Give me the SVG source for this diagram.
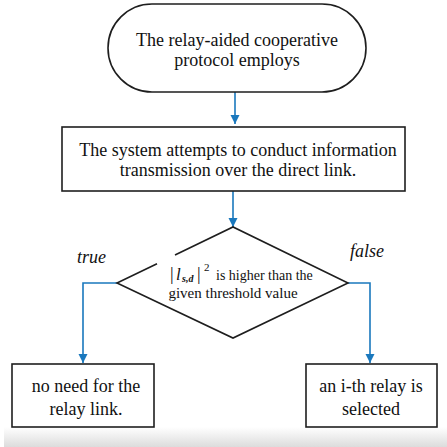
<svg xmlns="http://www.w3.org/2000/svg" width="447" height="447" viewBox="0 0 447 447">
<defs>
<marker id="ah" markerWidth="10" markerHeight="10" refX="9" refY="5" orient="auto" markerUnits="userSpaceOnUse">
<path d="M0,0.5 L9,5 L0,9.5 Z" fill="#1a78bd"/>
</marker>
<linearGradient id="bg" x1="0" y1="0" x2="0" y2="1">
<stop offset="0" stop-color="#ffffff"/>
<stop offset="1" stop-color="#dcdcdc"/>
</linearGradient>
<style>
.shape{fill:#fff;stroke:#1e1e1e;stroke-width:1.6}
.edge{fill:none;stroke:#1e1e1e;stroke-width:1.6;stroke-linejoin:miter}
.conn{fill:none;stroke:#1a78bd;stroke-width:1.6}
.t{font-family:"Liberation Serif","Times New Roman",serif;fill:#111;text-anchor:middle}
.lab{font-family:"Liberation Serif","Times New Roman",serif;fill:#111;font-style:italic;font-size:18px}
</style>
</defs>
<rect x="0" y="0" width="447" height="447" fill="#fff"/>
<rect x="4" y="427" width="443" height="20" fill="url(#bg)"/>
<g id="connectors">
<path class="conn" d="M235,92 V124" marker-end="url(#ah)"/>
<path class="conn" d="M233,191 V227" marker-end="url(#ah)"/>
<path class="conn" d="M117,283 H83 V363" marker-end="url(#ah)"/>
<path class="conn" d="M348,283 H370 V363" marker-end="url(#ah)"/>
</g>
<g id="start">
<rect class="shape" x="108" y="4" width="258" height="88" rx="44" ry="44"/>
<text class="t" font-size="18" x="237" y="46">The relay-aided cooperative</text>
<text class="t" font-size="18" x="237" y="66">protocol employs</text>
</g>
<g id="attempt">
<rect class="shape" x="62" y="127" width="343" height="64"/>
<text class="t" font-size="18" x="238" y="156">The system attempts to conduct information</text>
<text class="t" font-size="18" x="238" y="176">transmission over the direct link.</text>
</g>
<g id="decision">
<polygon points="233,227 348,283 233,338 117,283" fill="#fff"/>
<path class="edge" d="M157,263.7 L117,283 L233,338 L348,283 L233,227 L175,255"/>
<text font-family="Liberation Serif, Times New Roman, serif" font-size="14" fill="#111" y="280"><tspan x="170" font-size="18">|</tspan><tspan x="176" font-style="italic" font-size="17">l</tspan><tspan x="182" font-size="10" font-style="italic" font-weight="bold" dy="2">s,d</tspan><tspan x="197" font-size="18" dy="-2">|</tspan><tspan x="204" font-size="11" dy="-9">2</tspan><tspan x="216" dy="9">is higher than the</tspan></text>
<text class="t" font-size="15" x="233" y="298">given threshold value</text>
</g>
<g id="labels">
<text class="lab" x="77" y="263">true</text>
<text class="lab" x="350" y="257">false</text>
</g>
<g id="no-relay">
<rect class="shape" x="12" y="364" width="142" height="63"/>
<text class="t" font-size="18" x="86" y="392">no need for the</text>
<text class="t" font-size="18" x="86" y="415">relay link.</text>
</g>
<g id="relay-selected">
<rect class="shape" x="306" y="364" width="131" height="63"/>
<text class="t" font-size="18" x="371" y="392">an i-th relay is</text>
<text class="t" font-size="18" x="371" y="415">selected</text>
</g>
</svg>
